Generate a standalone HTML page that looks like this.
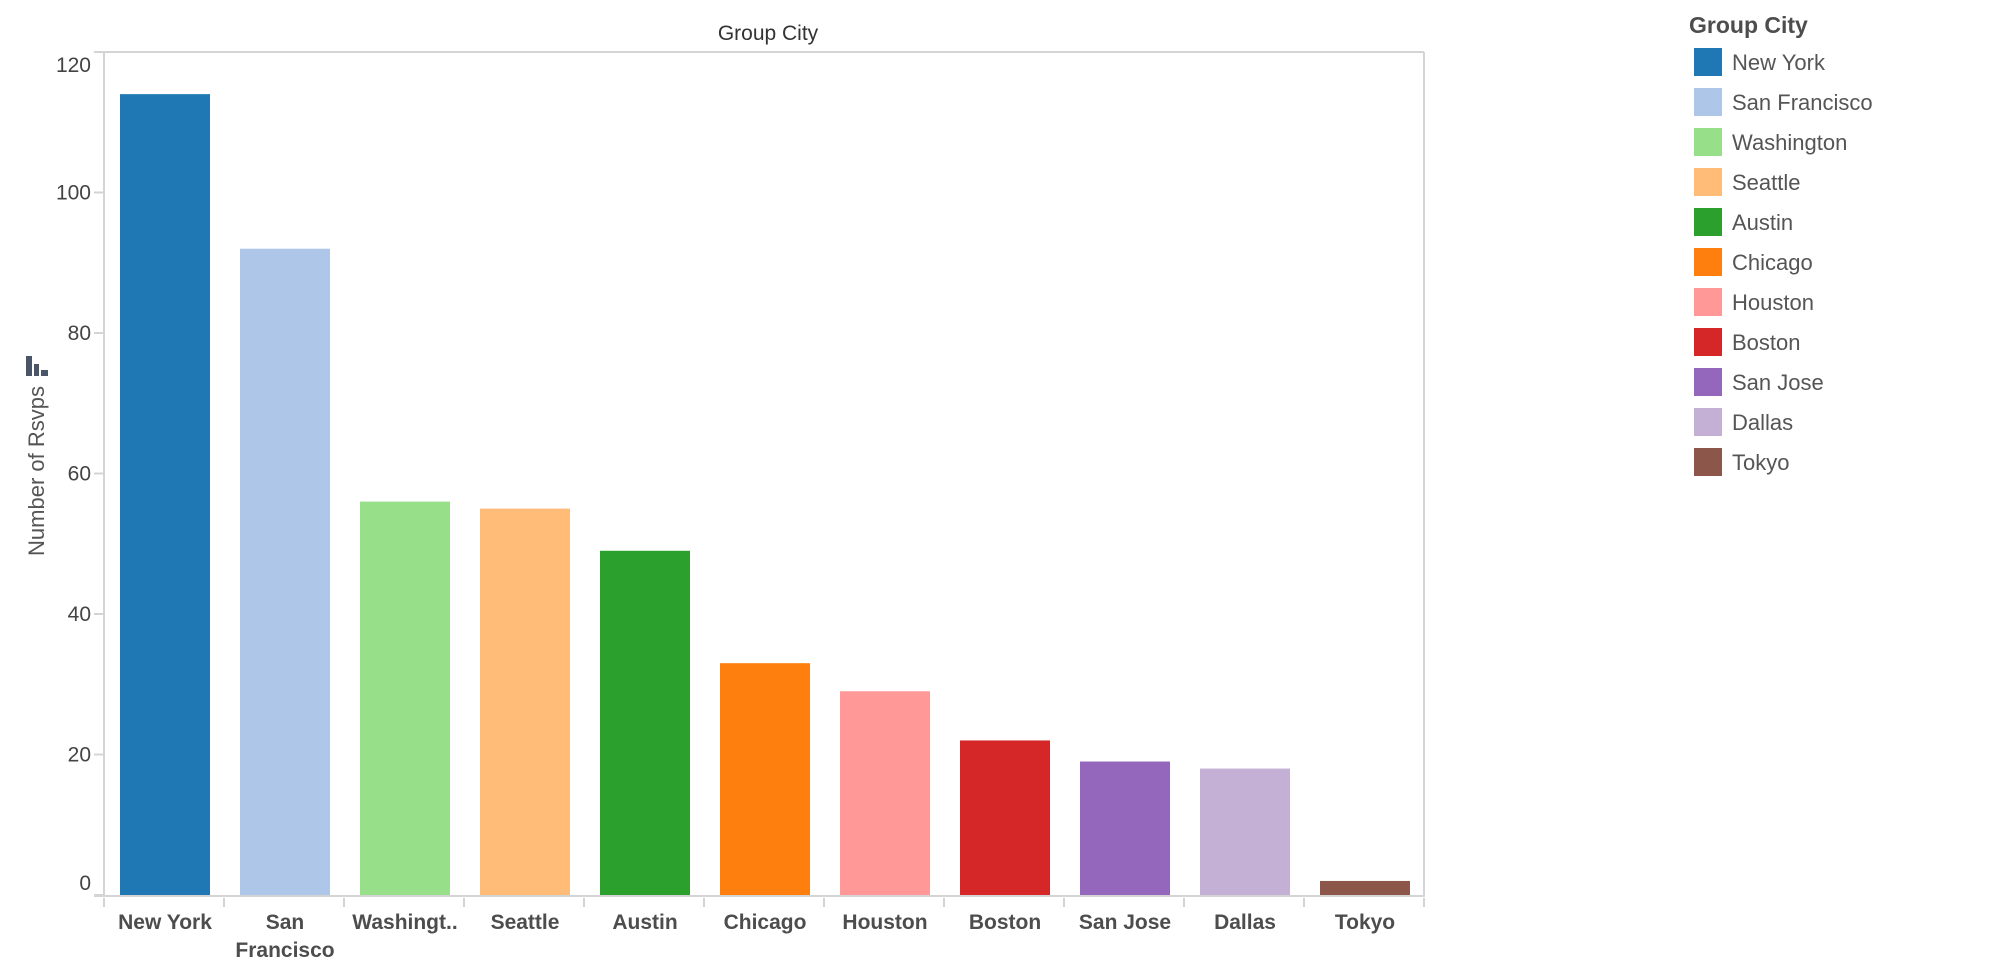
<!DOCTYPE html>
<html><head><meta charset="utf-8"><style>
body{margin:0;background:#fff;width:1994px;height:960px;overflow:hidden;font-family:"Liberation Sans",Arial,sans-serif}
svg text{font-family:"Liberation Sans",Arial,sans-serif}
</style></head><body>
<svg id="chart" width="1994" height="960" xmlns="http://www.w3.org/2000/svg">
<text x="768" y="40" font-size="21" fill="#333" text-anchor="middle">Group City</text>
<g fill="#4a5568">
<rect x="26" y="356" width="6" height="20"/><rect x="34" y="364" width="5" height="12"/><rect x="41" y="370" width="7" height="6"/>
</g>
<text transform="translate(44,471) rotate(-90)" font-size="22" fill="#555" text-anchor="middle">Number of Rsvps</text>
<g id="plot"></g>
<g id="legend"></g>
</svg>
<script>
const categories = ["New York","San Francisco","Washington","Seattle","Austin","Chicago","Houston","Boston","San Jose","Dallas","Tokyo"];
const axisLabels = [["New York"],["San","Francisco"],["Washingt.."],["Seattle"],["Austin"],["Chicago"],["Houston"],["Boston"],["San Jose"],["Dallas"],["Tokyo"]];
const values = [114,92,56,55,49,33,29,22,19,18,2];
const colors = ["#1f77b4","#aec7e8","#98df8a","#ffbb78","#2ca02c","#ff7f0e","#ff9896","#d62728","#9467bd","#c5b0d5","#8c564b"];
const yTicks = [0,20,40,60,80,100,120];

const NS="http://www.w3.org/2000/svg";
const plot=document.getElementById('plot');
const L=104,R=1424,T=52,B=895,yMax=120;
const step=(R-L)/categories.length;
const y=v=>B-(v/yMax)*(B-T);
const x=i=>L+i*step;
function mk(tag,attrs,parent){const e=document.createElementNS(NS,tag);for(const k in attrs)e.setAttribute(k,attrs[k]);parent.appendChild(e);return e;}
let f=mk('line',{x1:94,y1:T,x2:R,y2:T,stroke:'#d4d4d4','stroke-width':2},plot);


f=mk('line',{x1:L,y1:T,x2:L,y2:B,stroke:'#d4d4d4','stroke-width':2},plot);


f=mk('line',{x1:R,y1:T,x2:R,y2:B,stroke:'#d4d4d4','stroke-width':2},plot);


f=mk('line',{x1:94,y1:B+1,x2:R+1,y2:B+1,stroke:'#d4d4d4','stroke-width':2},plot);


yTicks.forEach(t=>{
  const ty=y(t);
  const tk=mk('line',{x1:94,y1:ty,x2:L,y2:ty,stroke:'#d4d4d4','stroke-width':2},plot);
  
  
  const ly=Math.max(ty+7,T+20)-(t===0?12:0);
  const lb=mk('text',{x:91,y:ly,'font-size':21,fill:'#444','text-anchor':'end'},plot);
  lb.textContent=t;
  
  
});
for(let i=0;i<=categories.length;i++){
  const tk=mk('line',{x1:x(i),y1:B+3,x2:x(i),y2:B+12,stroke:'#d4d4d4','stroke-width':2},plot);
  
  
}
categories.forEach((c,i)=>{
  const bx=x(i)+16,bw=step-30;
  const r=mk('rect',{x:bx,y:y(values[i]),width:bw,height:B-y(values[i]),fill:colors[i]},plot);
  
  
  axisLabels[i].forEach((ln,j)=>{
    const t=mk('text',{x:x(i)+step/2+1,y:929+j*28,'font-size':21,'font-weight':'bold',fill:'#4d4d4d','text-anchor':'middle'},plot);
    t.textContent=ln;
    
    
  });
});
const lg=document.getElementById('legend');
const lt=mk('text',{x:1689,y:33,'font-size':23,'font-weight':'bold',fill:'#4d4d4d'},lg);
lt.textContent='Group City';


categories.forEach((c,i)=>{
  const g=mk('g',{},lg);
  
  
  const yy=48+i*40;
  mk('rect',{x:1694,y:yy,width:28,height:28,fill:colors[i]},g);
  const t=mk('text',{x:1732,y:yy+22,'font-size':22,fill:'#555'},g);
  t.textContent=c;
});
</script>
</body></html>
